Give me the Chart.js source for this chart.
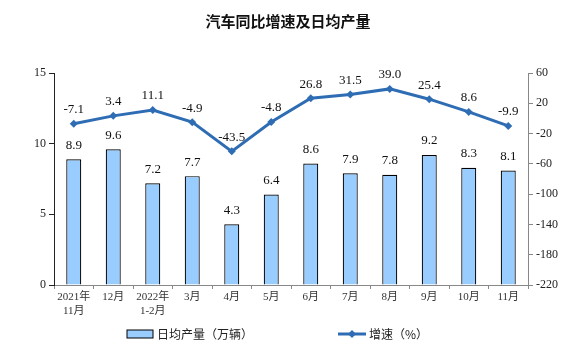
<!DOCTYPE html>
<html><head><meta charset="utf-8">
<script src="https://cdn.jsdelivr.net/npm/chart.js@4"></script>
<style>html,body{margin:0;padding:0;background:#fff;}#wrap{width:576px;height:356px;}</style>
</head><body><div id="wrap"><canvas id="c" width="576" height="356"></canvas></div>
<script>
const categories = [["2021年","11月"],"12月",["2022年","1-2月"],"3月","4月","5月","6月","7月","8月","9月","10月","11月"];
const dailyOutput = [8.9, 9.6, 7.2, 7.7, 4.3, 6.4, 8.6, 7.9, 7.8, 9.2, 8.3, 8.1];
const growthRate = [-7.1, 3.4, 11.1, -4.9, -43.5, -4.8, 26.8, 31.5, 39.0, 25.4, 8.6, -9.9];
const leftTicks = [0, 5, 10, 15];
const rightTicks = [60, 20, -20, -60, -100, -140, -180, -220];
const titleText = "汽车同比增速及日均产量";
const barLegend = "日均产量（万辆）";
const lineLegend = "增速（%）";

const SERIF = "'Liberation Serif', 'Noto Sans CJK SC', serif";
const LINE_COLOR = "#2E6DB4";
const BAR_COLOR = "#99CCFF";

const labelPlugin = {
  id: 'labels',
  afterDatasetsDraw(chart) {
    const ctx = chart.ctx;
    ctx.save();
    ctx.font = "13px " + SERIF;
    ctx.fillStyle = "#111";
    ctx.textAlign = "center";
    ctx.textBaseline = "middle";
    chart.data.datasets.forEach((ds, i) => {
      const meta = chart.getDatasetMeta(i);
      meta.data.forEach((el, j) => {
        const v = ds.data[j];
        ctx.fillText(v.toFixed(1), el.x, el.y - 14);
      });
    });
    ctx.restore();
  },
  afterDraw(chart) {
    const ctx = chart.ctx;
    ctx.save();
    // title
    ctx.font = "bold 15px 'Noto Sans CJK SC', sans-serif";
    ctx.fillStyle = "#111";
    ctx.textAlign = "center";
    ctx.textBaseline = "middle";
    ctx.fillText(titleText, 288, 21);
    // legend
    ctx.fillStyle = BAR_COLOR;
    ctx.fillRect(127, 330, 26, 8);
    ctx.strokeStyle = "#000";
    ctx.lineWidth = 1;
    ctx.strokeRect(127, 330, 26, 8);
    ctx.font = "12px 'Noto Sans CJK SC', sans-serif";
    ctx.fillStyle = "#222";
    ctx.textAlign = "left";
    ctx.fillText(barLegend, 157, 334);
    ctx.strokeStyle = LINE_COLOR;
    ctx.lineWidth = 3;
    ctx.beginPath(); ctx.moveTo(338, 334); ctx.lineTo(366, 334); ctx.stroke();
    ctx.fillStyle = LINE_COLOR;
    ctx.beginPath(); ctx.moveTo(352, 330); ctx.lineTo(356, 334); ctx.lineTo(352, 338); ctx.lineTo(348, 334); ctx.closePath(); ctx.fill();
    ctx.fillStyle = "#222";
    ctx.fillText(lineLegend, 369, 334);
    ctx.restore();
  }
};

new Chart(document.getElementById('c'), {
  data: {
    labels: categories,
    datasets: [
      {
        type: 'line', label: lineLegend, data: growthRate, yAxisID: 'y1', order: 0,
        borderColor: LINE_COLOR, backgroundColor: LINE_COLOR, borderWidth: 3,
        pointStyle: 'rectRot', pointRadius: 4, pointBackgroundColor: LINE_COLOR, pointBorderWidth: 0,
        tension: 0
      },
      {
        type: 'bar', label: barLegend, data: dailyOutput, yAxisID: 'y', order: 1,
        backgroundColor: BAR_COLOR, borderColor: "#000", borderWidth: 1.2,
        categoryPercentage: 1, barPercentage: 0.38
      }
    ]
  },
  options: {
    responsive: false, animation: false, devicePixelRatio: 1,
    layout: { padding: { top: 73, bottom: 26, left: 0, right: 0 } },
    plugins: { legend: { display: false }, title: { display: false }, tooltip: { enabled: false } },
    scales: {
      x: {
        offset: true,
        grid: { display: true, drawOnChartArea: false, offset: true, tickLength: 4, color: "#888" },
        border: { color: "#888", width: 1 },
        ticks: { font: { size: 11, family: SERIF }, color: "#333", padding: 2, maxRotation: 0, autoSkip: false },
        afterFit(s) { s.height = 45; }
      },
      y: {
        position: 'left', min: 0, max: 15,
        afterBuildTicks(s) { s.ticks = leftTicks.map(v => ({ value: v })); },
        grid: { display: true, drawOnChartArea: false, tickLength: 5, color: "#222" },
        border: { color: "#222", width: 1 },
        ticks: { font: { size: 12, family: SERIF }, color: "#222", padding: 3 },
        afterFit(s) { s.width = 54; }
      },
      y1: {
        position: 'right', min: -220, max: 60,
        afterBuildTicks(s) { s.ticks = rightTicks.map(v => ({ value: v })); },
        grid: { display: true, drawOnChartArea: false, tickLength: 5, color: "#888" },
        border: { color: "#888", width: 1 },
        ticks: { font: { size: 12, family: SERIF }, color: "#222", padding: 3 },
        afterFit(s) { s.width = 48; }
      }
    }
  },
  plugins: [labelPlugin]
});
</script>
</body></html>
